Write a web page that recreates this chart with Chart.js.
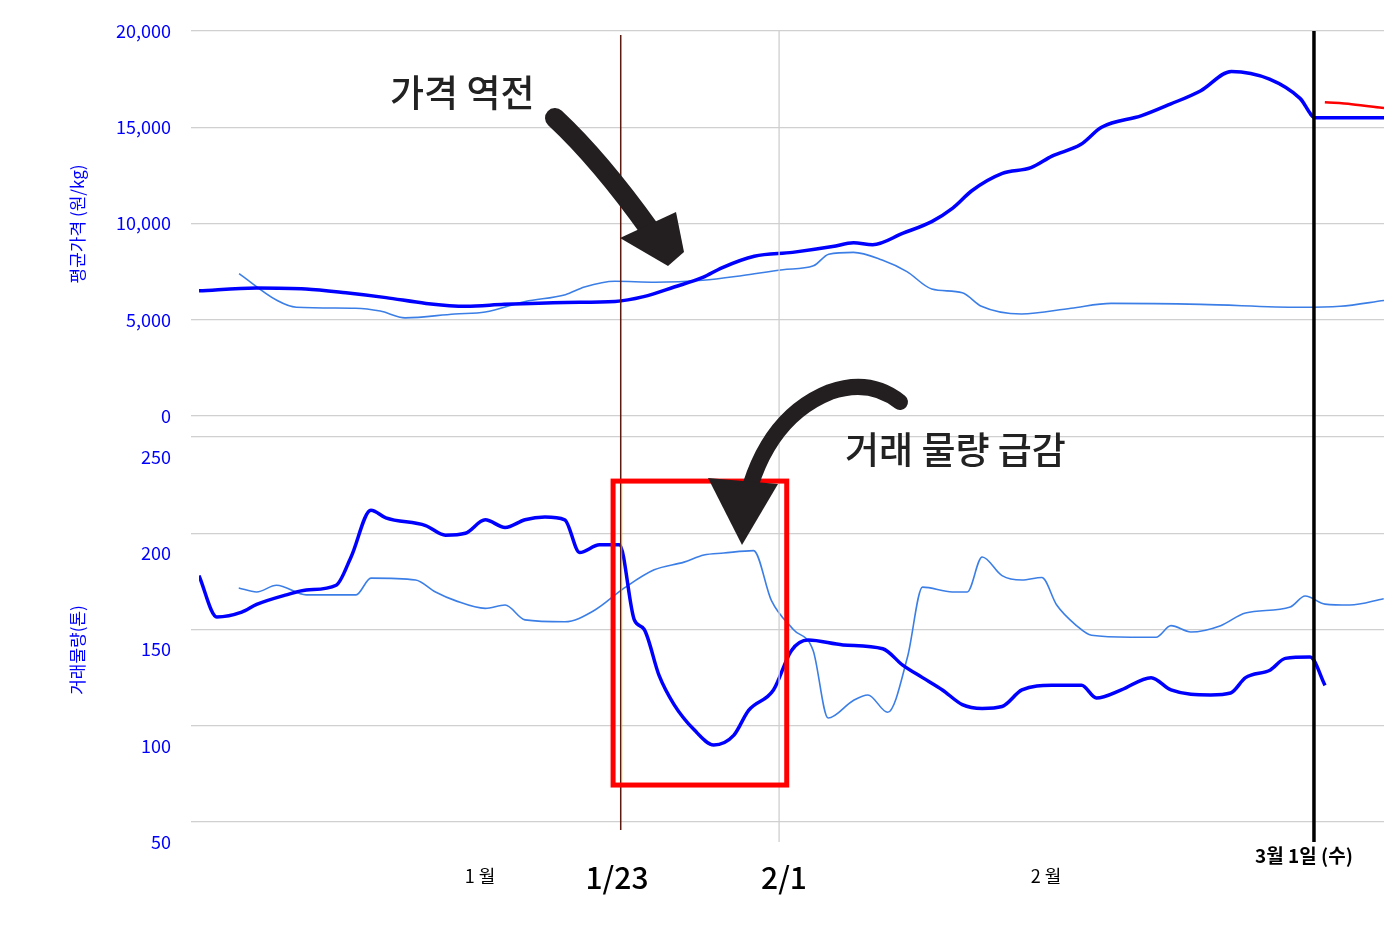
<!DOCTYPE html>
<html><head><meta charset="utf-8">
<script src="https://cdn.jsdelivr.net/npm/chart.js@4"></script>
<style>body{margin:0;background:#fff}canvas{position:absolute;left:0;top:0}</style>
</head><body>
<div style="position:absolute;left:0;top:0;width:1384px;height:926px"><canvas id="c1"></canvas></div>
<div style="position:absolute;left:0;top:0;width:1384px;height:926px"><canvas id="c2"></canvas></div>
<canvas id="ov" width="1384" height="926"></canvas>
<script>
const F="'Noto Sans CJK KR','Noto Sans',sans-serif";
// day index: Jan 1 = 1, Feb 1 = 32, Mar 1 = 60
const priceThickX=[1.6,4.6,7.2,9.3,11.4,13.5,15.6,17.6,20.8,23.4,24.9,26.5,28,29,30.7,32.7,34.8,35.9,36.9,38.5,40,41.1,42.1,43.7,45.2,46.3,47.8,48.9,51,52.5,54.1,55.7,57.7,59.3,60.1,63.7];
const priceThick=[6500,6650,6600,6400,6150,5850,5700,5800,5900,5950,6200,6700,7200,7700,8300,8500,8800,9000,8900,9500,10100,10800,11700,12600,12900,13500,14100,15000,15600,16200,16900,17900,17500,16500,15500,15500];
const priceThinX=[3.7,5.7,6.7,9.8,11.1,12.4,15,16.6,18.7,20.8,21.8,23.4,25.5,28,30.1,32.2,33.8,34.6,35.9,37.4,38.7,40,41.6,42.6,44.7,47.3,49.4,54.1,59.3,61.4,63.7];
const priceThin=[7400,6000,5650,5600,5450,5100,5300,5400,5950,6300,6700,7000,6950,7050,7300,7600,7800,8400,8500,8100,7500,6600,6400,5700,5300,5600,5850,5800,5650,5700,6000];
const priceRedX=[60.6,62,63.7];
const priceRed=[16300,16200,16000];
const xpx=[192,210,235,250,280,300,330,345,365,380,420,440,460,480,500,520,540,560,575,595,615,630,640,655,670,690,710,730,745,770,788,805,840,880,900,920,940,960,980,1000,1020,1050,1080,1095,1120,1150,1170,1210,1230,1245,1270,1285,1310,1325];
const volThickX=xpx.map(x=>(x-192)/19.2+1.6);
const volThick=[178,156.5,159,163,168,170.5,173,187.7,212,208,204,199,200,207,203,207,208.4,207,190,194,194,155,150,126,111,98,90,95,108,118.6,139,144.5,142,140,131.5,125,118.6,111,109,110,118.6,121,121,114.4,118.6,125,118.6,116,117,125,129,135,135.7,121];
const xpx2=[232,250,270,300,350,365,410,430,450,480,500,520,560,590,620,650,680,700,720,750,768,790,810,825,850,865,885,905,920,950,965,980,1000,1020,1040,1055,1075,1090,1130,1155,1170,1190,1220,1245,1290,1305,1325,1350,1384];
const volThinX=xpx2.map(x=>(x-192)/19.2+1.6);
const volThin=[171.6,169.5,173,168,168,176.7,175.7,169.5,165,161,162.7,155,154,160,171.6,181,185,188.7,189.7,191,165,150,139,104,113,116,107,136,172,169.5,169.5,187.7,178,175.7,177,162.7,152,147,146,146,152,148.7,152,158.6,161.7,167.4,163.2,162.7,166];
const priceTicks=[0,5000,10000,15000,20000];
const volTicks=[50,100,150,200,250];
const XMIN=1.6,XMAX=63.7;
const pts=(xs,ys)=>xs.map((x,i)=>({x,y:ys[i]}));
function yAxis(min,max,step,offset){return{min,max,border:{display:false},afterFit:s=>{s.width=199},
 grid:{color:'#d0d0d0',lineWidth:1.3},
 ticks:{stepSize:step,color:'#0000ff',padding:20,labelOffset:offset,font:{family:F,size:18},callback:v=>v.toLocaleString('en-US')}}}
const xAx={type:'linear',min:XMIN,max:XMAX,display:false};
const base={responsive:true,maintainAspectRatio:false,animation:false,plugins:{legend:{display:false},tooltip:{enabled:false}},elements:{point:{radius:0}}};
const ds=(d,c,w)=>({data:d,borderColor:c,borderWidth:w,cubicInterpolationMode:'monotone',fill:false});
const c1=new Chart(document.getElementById('c1'),{type:'line',data:{datasets:[
 ds(pts(priceThickX,priceThick),'#0000ff',3.5),ds(pts(priceThinX,priceThin),'#3b7ee6',1.6),ds(pts(priceRedX,priceRed),'#ff0000',2.5)]},
 options:{...base,layout:{padding:{top:31,bottom:510,right:0}},scales:{x:xAx,y:yAxis(0,20000,5000,0)}}});
const c2=new Chart(document.getElementById('c2'),{type:'line',data:{datasets:[
 ds(pts(volThickX,volThick),'#0000ff',3.5),ds(pts(volThinX,volThin),'#3b7ee6',1.6)]},
 options:{...base,layout:{padding:{top:437,bottom:104,right:0}},scales:{x:xAx,y:yAxis(50,250,50,20)}}});
const o=document.getElementById('ov').getContext('2d');
const X=v=>c2.scales.x.getPixelForValue(v), YV=v=>c2.scales.y.getPixelForValue(v);
o.strokeStyle='#cfcfcf';o.lineWidth=1.3;o.beginPath();o.moveTo(X(32),31);o.lineTo(X(32),842);o.stroke();
o.strokeStyle='#5a1a10';o.lineWidth=1.5;o.beginPath();o.moveTo(X(23.7),35);o.lineTo(X(23.7),830);o.stroke();
o.strokeStyle='#d4c000';o.lineWidth=0.8;o.beginPath();o.moveTo(X(23.7)+1,480);o.lineTo(X(23.7)+1,785);o.stroke();
o.strokeStyle='#000';o.lineWidth=3.5;o.beginPath();o.moveTo(X(60.03),31);o.lineTo(X(60.03),842);o.stroke();
o.strokeStyle='#ff0000';o.lineWidth=5;
const rx1=X(23.3),rx2=X(32.4),ry1=YV(227.1),ry2=YV(69.2);o.strokeRect(rx1,ry1,rx2-rx1,ry2-ry1);
o.fillStyle='#231f20';o.strokeStyle='#231f20';o.lineCap='round';
o.lineWidth=20;o.beginPath();o.moveTo(555,118);o.quadraticCurveTo(600,160,650,230);o.stroke();
o.beginPath();o.moveTo(620,238);o.lineTo(676,212);o.lineTo(684,252);o.lineTo(668,266);o.closePath();o.fill();
o.lineWidth=16;o.beginPath();o.moveTo(900,402);o.quadraticCurveTo(870,378,830,392);o.quadraticCurveTo(760,420,742,520);o.stroke();
o.beginPath();o.moveTo(708,478);o.lineTo(778,484);o.lineTo(742,545);o.closePath();o.fill();
o.fillStyle='#222';o.textAlign='left';o.textBaseline='middle';
o.font='500 37px '+F;o.fillText('가격 역전',390,93);
o.fillText('거래 물량 급감',845,450);
o.textAlign='center';o.fillStyle='#000';
o.font='500 30px '+F;o.fillText('1/23',617,878);o.fillText('2/1',784,878);
o.font='18px '+F;o.fillText('1 월',480,876);o.fillText('2 월',1046,876);
o.font='bold 19px '+F;o.fillText('3월 1일 (수)',1304,856);
o.fillStyle='#0000ff';o.font='17px '+F;
o.save();o.translate(78,224);o.rotate(-Math.PI/2);o.fillText('평균가격 (원/kg)',0,0);o.restore();
o.save();o.translate(78,650);o.rotate(-Math.PI/2);o.fillText('거래물량(톤)',0,0);o.restore();
</script></body></html>
